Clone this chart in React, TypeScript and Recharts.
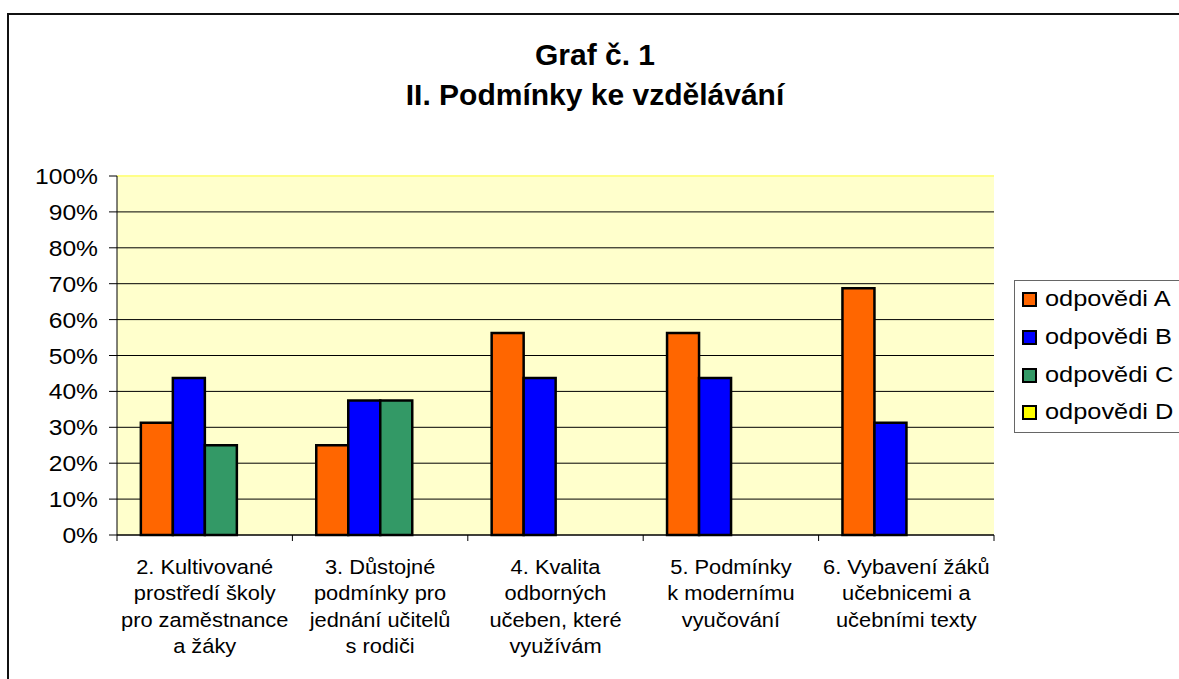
import { BarChart, Bar, XAxis, YAxis, CartesianGrid, ReferenceLine } from 'recharts'

const categories = [
  ['2. Kultivované', 'prostředí školy', 'pro zaměstnance', 'a žáky'],
  ['3. Důstojné', 'podmínky pro', 'jednání učitelů', 's rodiči'],
  ['4. Kvalita', 'odborných', 'učeben, které', 'využívám'],
  ['5. Podmínky', 'k modernímu', 'vyučování'],
  ['6. Vybavení žáků', 'učebnicemi a', 'učebními texty'],
]
const answersA = [0.3125, 0.25, 0.5625, 0.5625, 0.6875]
const answersB = [0.4375, 0.375, 0.4375, 0.4375, 0.3125]
const answersC = [0.25, 0.375, 0, 0, 0]
const answersD = [0, 0, 0, 0, 0]
const yTicks = [0, 0.1, 0.2, 0.3, 0.4, 0.5, 0.6, 0.7, 0.8, 0.9, 1]

const series = [
  { key: 'A', name: 'odpovědi A', color: '#FF6600' },
  { key: 'B', name: 'odpovědi B', color: '#0000FF' },
  { key: 'C', name: 'odpovědi C', color: '#339966' },
  { key: 'D', name: 'odpovědi D', color: '#FFFF00' },
]

const data = categories.map((lines, i) => ({
  name: lines.join(' '),
  lines,
  A: answersA[i],
  B: answersB[i],
  C: answersC[i],
  D: answersD[i],
}))

const W = 1179
const H = 679
const PLOT_LEFT = 117
const PLOT_RIGHT = 994
const PLOT_TOP = 176
const PLOT_BOTTOM = 535
const BAND = (PLOT_RIGHT - PLOT_LEFT) / categories.length
const FONT = '"Liberation Sans", Arial, sans-serif'
// the original text is a bit wider than Arial at its height
const STRETCH = 1.12

const CategoryTick = (props: any) => {
  const { x, payload, index } = props
  const lines: string[] = data[index]?.lines ?? [String(payload.value)]
  const left = x - BAND / 2
  return (
    <g>
      <line x1={left} x2={left} y1={PLOT_BOTTOM} y2={PLOT_BOTTOM + 6} stroke="#000" />
      {index === categories.length - 1 && (
        <line x1={left + BAND} x2={left + BAND} y1={PLOT_BOTTOM} y2={PLOT_BOTTOM + 6} stroke="#000" />
      )}
      <text
        transform={`translate(${x},${PLOT_BOTTOM + 39}) scale(${STRETCH},1)`}
        textAnchor="middle"
        fontSize={19.5}
        fontFamily={FONT}
        fill="#000"
      >
        {lines.map((l, i) => (
          <tspan key={i} x={0} y={i * 26.5}>{l}</tspan>
        ))}
      </text>
    </g>
  )
}

const PercentTick = (props: any) => {
  const { x, y, payload } = props
  return (
    <text
      transform={`translate(${x},${y + 8}) scale(${STRETCH},1)`}
      textAnchor="end"
      fontSize={22}
      fontFamily={FONT}
      fill="#000"
    >
      {`${Math.round(payload.value * 100)}%`}
    </text>
  )
}

const LegendBox = () => (
  <div
    style={{
      position: 'absolute',
      left: 1014,
      top: 280,
      width: 200,
      border: '1px solid #666',
      background: '#fff',
      padding: '0 0 0 7px',
      fontFamily: FONT,
      fontSize: 21.5,
    }}
  >
    {series.map(s => (
      <div key={s.key} style={{ display: 'flex', alignItems: 'center', height: 37.7 }}>
        <span
          style={{
            display: 'inline-block',
            width: 11,
            height: 11,
            background: s.color,
            border: '2px solid #000',
            marginRight: 8,
          }}
        />
        <span style={{ display: 'inline-block', transform: 'scaleX(1.18)', transformOrigin: 'left center' }}>
          {s.name}
        </span>
      </div>
    ))}
  </div>
)

export default function App() {
  return (
    <div style={{ position: 'absolute', left: 0, top: 0, width: W, height: H, overflow: 'hidden', background: '#fff' }}>
      {/* outer chart frame, cut off at right and bottom */}
      <div
        style={{
          position: 'absolute',
          left: 7,
          top: 13,
          width: W + 50,
          height: H + 50,
          border: '2px solid #111',
        }}
      />
      <div
        style={{
          position: 'absolute',
          left: 0,
          width: 1190,
          top: 35,
          textAlign: 'center',
          fontFamily: FONT,
          fontWeight: 'bold',
          fontSize: 30,
          lineHeight: '40px',
          color: '#000',
        }}
      >
        <div>Graf č. 1</div>
        <div>II. Podmínky ke vzdělávání</div>
      </div>
      <div style={{ position: 'absolute', left: 0, top: 0 }}>
        <BarChart
          width={W}
          height={H}
          data={data}
          margin={{ top: PLOT_TOP, right: W - PLOT_RIGHT, bottom: H - PLOT_BOTTOM - 130, left: 0 }}
          barCategoryGap="13.6%"
          barGap={0}
        >
          <CartesianGrid fill="#FFFFCC" stroke="#000" vertical={false} />
          <XAxis
            dataKey="name"
            height={130}
            interval={0}
            axisLine={{ stroke: '#000' }}
            tickLine={false}
            tick={<CategoryTick />}
          />
          <YAxis
            width={PLOT_LEFT}
            domain={[0, 1]}
            ticks={yTicks}
            interval={0}
            axisLine={{ stroke: '#000' }}
            tickLine={{ stroke: '#000' }}
            tickSize={8}
            tickMargin={11}
            tick={<PercentTick />}
          />
          {series.map(s => (
            <Bar
              key={s.key}
              dataKey={s.key}
              name={s.name}
              fill={s.color}
              stroke="#000"
              strokeWidth={2.5}
              isAnimationActive={false}
            />
          ))}
          <ReferenceLine y={1} stroke="#FFFF88" strokeWidth={2} />
        </BarChart>
      </div>
      <LegendBox />
    </div>
  )
}
